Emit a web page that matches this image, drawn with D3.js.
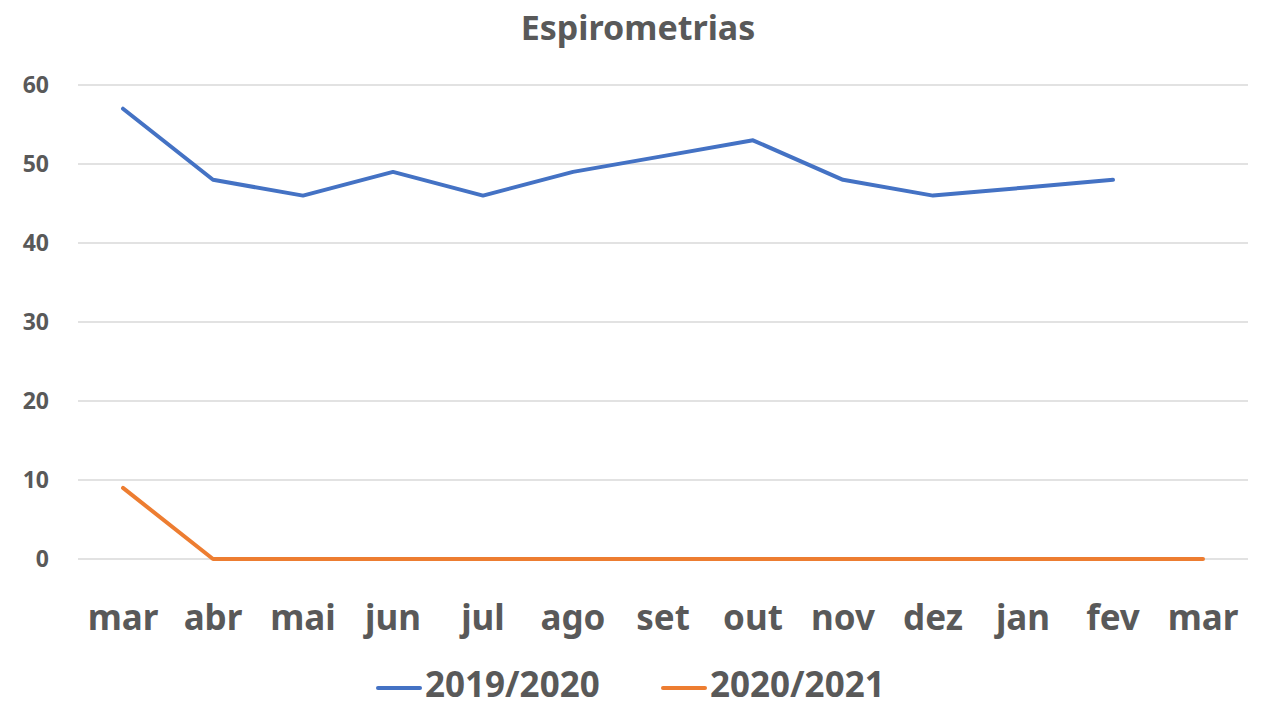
<!DOCTYPE html>
<html>
<head>
<meta charset="utf-8">
<script src="https://cdn.jsdelivr.net/npm/d3@7"></script>
<style>
  body { margin: 0; background: #fff; }
  text { font-family: "Noto Sans", "Open Sans", sans-serif; font-weight: bold; fill: #595959; }
</style>
</head>
<body>
<div id="chart"></div>
<script>
// months on the x axis
let months = ["mar", "abr", "mai", "jun", "jul", "ago", "set", "out", "nov", "dez", "jan", "fev", "mar"];
// series values
let serie1 = [57, 48, 46, 49, 46, 49, 51, 53, 48, 46, 47, 48, null];
let serie2 = [9, 0, 0, 0, 0, 0, 0, 0, 0, 0, 0, 0, 0];
let seriesNames = ["2019/2020", "2020/2021"];
let yTicks = [0, 10, 20, 30, 40, 50, 60];

let width = 1262;
let height = 707;
let colors = ["#4472C4", "#ED7D31"];

let svg = d3.select("#chart")
            .append("svg")
            .attr("width", width)
            .attr("height", height);

// scales
let xScale = d3.scaleBand()
               .domain(d3.range(months.length))
               .range([78, 1248]);
let yScale = d3.scaleLinear()
               .domain([0, 60])
               .range([559, 85]);

// title
svg.append("text")
   .attr("x", 638)
   .attr("y", 40)
   .attr("text-anchor", "middle")
   .style("font-size", "34px")
   .text("Espirometrias");

// grid lines
svg.append("g")
   .selectAll("line")
   .data(yTicks)
   .enter()
   .append("line")
   .attr("x1", 78)
   .attr("x2", 1248)
   .attr("y1", d => yScale(d))
   .attr("y2", d => yScale(d))
   .attr("stroke", "#d9d9d9")
   .attr("stroke-width", 1.3);

// y labels
svg.append("g")
   .selectAll("text")
   .data(yTicks)
   .enter()
   .append("text")
   .attr("x", 49)
   .attr("y", d => yScale(d) + 8)
   .attr("text-anchor", "end")
   .style("font-size", "23px")
   .text(d => d);

// x labels
svg.append("g")
   .selectAll("text")
   .data(months)
   .enter()
   .append("text")
   .attr("x", (d, i) => xScale(i) + xScale.bandwidth() / 2)
   .attr("y", 630)
   .attr("text-anchor", "middle")
   .style("font-size", "35px")
   .text(d => d);

// lines
let line = d3.line()
             .defined(d => d !== null)
             .x((d, i) => xScale(i) + xScale.bandwidth() / 2)
             .y(d => yScale(d));

[serie1, serie2].forEach((s, k) => {
    svg.append("path")
       .datum(s)
       .attr("d", line)
       .attr("fill", "none")
       .attr("stroke", colors[k])
       .attr("stroke-width", 4)
       .attr("stroke-linecap", "round")
       .attr("stroke-linejoin", "round");
});

// legend
let legendX = [378, 663];
seriesNames.forEach((name, k) => {
    svg.append("line")
       .attr("x1", legendX[k])
       .attr("x2", legendX[k] + 42)
       .attr("y1", 688)
       .attr("y2", 688)
       .attr("stroke", colors[k])
       .attr("stroke-width", 4)
       .attr("stroke-linecap", "round");
    svg.append("text")
       .attr("x", legendX[k] + 47)
       .attr("y", 697)
       .style("font-size", "35px")
       .text(name);
});
</script>
</body>
</html>
